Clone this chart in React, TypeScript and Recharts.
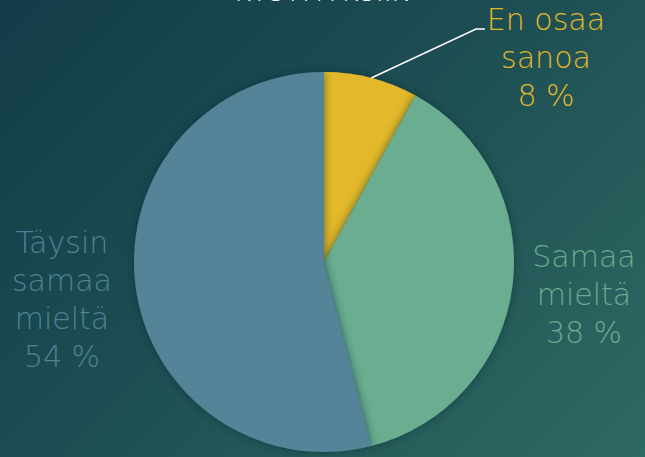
import React from 'react';
import { PieChart, Pie, Cell } from 'recharts';

const categories = ['En osaa sanoa', 'Samaa mieltä', 'Täysin samaa mieltä'];
const shares = [8, 38, 54];
const labelLines = [['En osaa', 'sanoa'], ['Samaa', 'mieltä'], ['Täysin', 'samaa', 'mieltä']];
const sliceColors = ['#e3b82b', '#6aad90', '#548498'];
const textColors = ['#e3b82b', '#69ab8f', '#4f8296'];

// where each label block sits, relative to the pie centre
const labelPlace = [
  { dx: 222, dy: -232 },
  { dx: 260, dy: 5 },
  { dx: -262, dy: -9 },
];
const LINE_H = 38;
const FONT = '"DejaVu Sans", Lato, sans-serif';

const data = categories.map((name, i) => ({ name, value: shares[i] }));

function SliceLabel(props: any) {
  const { cx, cy, midAngle, outerRadius, index, value } = props;
  const place = labelPlace[index];
  const x = cx + place.dx;
  const y0 = cy + place.dy;
  const lines = [...labelLines[index], `${value} %`];
  let leader = null;
  if (index === 0) {
    const rad = (Math.PI / 180) * midAngle;
    const sx = cx + outerRadius * Math.cos(rad);
    const sy = cy - outerRadius * Math.sin(rad);
    const ex = x - 61;
    const ey = y0 - 1;
    leader = <polyline points={`${sx},${sy} ${ex - 9},${ey} ${ex},${ey}`} fill="none" stroke="#ffffff" strokeWidth={1.5} />;
  }
  return (
    <g>
      {leader}
      <text x={x} y={y0} fill={textColors[index]} textAnchor="middle" fontFamily={FONT} fontWeight={200} fontSize={30}>
        {lines.map((l, k) => (
          <tspan key={k} x={x} y={y0 + k * LINE_H}>{l}</tspan>
        ))}
      </text>
    </g>
  );
}

export default function App() {
  return (
    <div
      style={{
        position: 'fixed',
        left: 0,
        top: 0,
        width: 645,
        height: 457,
        overflow: 'hidden',
        background: 'linear-gradient(135deg, #123c49 0%, #1d4d52 45%, #2d6a62 100%)',
      }}
    >
      <div
        style={{
          position: 'absolute',
          left: 0,
          width: 645,
          top: -24,
          textAlign: 'center',
          color: '#ffffff',
          fontFamily: FONT,
          fontWeight: 200,
          fontSize: 27,
        }}
      >
        KYSYMYKSIIN
      </div>
      <PieChart width={645} height={457} margin={{ top: 0, right: 0, bottom: 0, left: 0 }} style={{ position: 'absolute', left: 0, top: 0 }}>
        <defs>
          <filter id="pieShadow" x="-20%" y="-20%" width="140%" height="140%">
            <feDropShadow dx="0" dy="0" stdDeviation="4" floodColor="#0a2a30" floodOpacity="0.6" />
          </filter>
        </defs>
        <Pie
          data={data}
          dataKey="value"
          nameKey="name"
          cx={324}
          cy={262}
          outerRadius={190}
          startAngle={90}
          endAngle={-270}
          stroke="none"
          label={SliceLabel}
          labelLine={false}
          isAnimationActive={false}
          style={{ filter: 'url(#pieShadow)' }}
        >
          {data.map((d, i) => (
            <Cell key={d.name} fill={sliceColors[i]} />
          ))}
        </Pie>
      </PieChart>
    </div>
  );
}
